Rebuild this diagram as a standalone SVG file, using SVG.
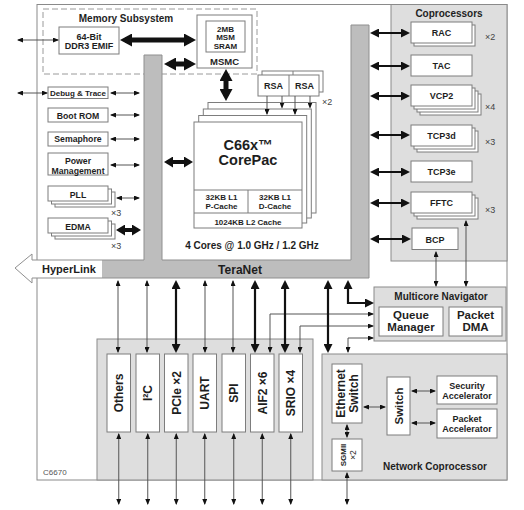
<svg xmlns="http://www.w3.org/2000/svg" width="524" height="510" viewBox="0 0 524 510">
<style>
text{font-family:"Liberation Sans",Arial,sans-serif;fill:#1e1e1e;font-weight:bold;text-anchor:middle}
.b{fill:#fff;stroke:#7d7d7d;stroke-width:1}
.g{fill:#dedede;stroke:#8a8a8a;stroke-width:1}
.d{fill:none;stroke:#9a9a9a;stroke-width:1;stroke-dasharray:6 3}
.ln{fill:none;stroke:#7d7d7d;stroke-width:1}
.t{stroke:#555;stroke-width:1;fill:none;marker-start:url(#at);marker-end:url(#at)}
.t1{stroke:#555;stroke-width:1;fill:none;marker-end:url(#at)}
.m{stroke:#111;stroke-width:2.2;fill:none;marker-start:url(#am);marker-end:url(#am)}
.k{stroke:#111;stroke-width:5;fill:none;marker-start:url(#ak);marker-end:url(#ak)}
.c{stroke:#111;stroke-width:4;fill:none;marker-start:url(#ac);marker-end:url(#ac)}
.x{font-weight:normal;font-size:9px;fill:#444;text-anchor:start}
.s8{font-size:8px}
.s9{font-size:9px}
.s10{font-size:10px}
.s12{font-size:12px}
</style>
<defs>
<marker id="at" markerUnits="userSpaceOnUse" markerWidth="6" markerHeight="5" refX="5" refY="2.5" orient="auto-start-reverse"><path d="M0,0L6,2.5L0,5z" fill="#111"/></marker>
<marker id="am" markerUnits="userSpaceOnUse" markerWidth="9" markerHeight="9" refX="6.5" refY="4.5" orient="auto-start-reverse"><path d="M0,0L9,4.5L0,9z" fill="#111"/></marker>
<marker id="ak" markerUnits="userSpaceOnUse" markerWidth="12" markerHeight="13" refX="7" refY="6.5" orient="auto-start-reverse"><path d="M0,0L12,6.5L0,13z" fill="#111"/></marker>
<marker id="ac" markerUnits="userSpaceOnUse" markerWidth="9" markerHeight="11" refX="5.5" refY="5.5" orient="auto-start-reverse"><path d="M0,0L9,5.5L0,11z" fill="#111"/></marker>
</defs>

<g id="chip">
<rect x="37" y="4.5" width="470" height="475.5" fill="#fff" stroke="#8a8a8a"/>
<text x="43" y="475" style="font-weight:normal;font-size:8px;fill:#555;text-anchor:start">C6670</text>
</g>

<g id="coprocessors">
<rect class="g" x="391" y="4.5" width="116" height="256.5"/>
<text class="s10" x="449" y="16.5">Coprocessors</text>
</g>
<g id="rac">
<rect class="b" x="414" y="25" width="61" height="21"/>
<rect class="b" x="411" y="22" width="61" height="21"/>
<text class="s9" x="441.5" y="36">RAC</text>
<text class="x" x="485" y="40">×2</text>
</g>
<g id="tac">
<rect class="b" x="411" y="55" width="61" height="21"/>
<text class="s9" x="441.5" y="69">TAC</text>
</g>
<g id="vcp2">
<rect class="b" x="420" y="94" width="61" height="21"/>
<rect class="b" x="417" y="91" width="61" height="21"/>
<rect class="b" x="414" y="88" width="61" height="21"/>
<rect class="b" x="411" y="85" width="61" height="21"/>
<text class="s9" x="441.5" y="99">VCP2</text>
<text class="x" x="485" y="110">×4</text>
</g>
<g id="tcp3d">
<rect class="b" x="417" y="131" width="61" height="21"/>
<rect class="b" x="414" y="128" width="61" height="21"/>
<rect class="b" x="411" y="125" width="61" height="21"/>
<text class="s9" x="441.5" y="138.5">TCP3d</text>
<text class="x" x="485" y="145">×3</text>
</g>
<g id="tcp3e">
<rect class="b" x="411" y="161" width="61" height="21"/>
<text class="s9" x="441.5" y="174.5">TCP3e</text>
</g>
<g id="fftc">
<rect class="b" x="417" y="198" width="61" height="21"/>
<rect class="b" x="414" y="195" width="61" height="21"/>
<rect class="b" x="411" y="192" width="61" height="21"/>
<text class="s9" x="441.5" y="206">FFTC</text>
<text class="x" x="485" y="213">×3</text>
</g>
<g id="bcp">
<rect class="b" x="412" y="228" width="46" height="21.5"/>
<text class="s9" x="435" y="242.5">BCP</text>
</g>

<g id="memory-subsystem">
<rect class="d" x="43" y="9" width="214" height="65"/>
<text class="s10" x="126" y="22">Memory Subsystem</text>
</g>
<g id="ddr3">
<rect class="b" x="59" y="27" width="60" height="27"/>
<text class="s9" x="89" y="39.5">64-Bit</text>
<text class="s9" x="89" y="48.5">DDR3 EMIF</text>
</g>
<g id="msmc">
<rect class="b" x="197" y="15" width="55" height="53"/>
<rect class="b" x="206" y="21" width="39" height="31"/>
<text class="s8" x="225.5" y="31.5">2MB</text>
<text class="s8" x="225.5" y="40">MSM</text>
<text class="s8" x="225.5" y="48.5">SRAM</text>
<text x="224.5" y="65" style="font-size:9.5px">MSMC</text>
</g>

<g id="teranet">
<path d="M144,55H162V260H351V25H369V278H102V260H144Z" fill="#bdbdbd"/>
<path d="M15,268L32,254V260H102V278H32V283Z" fill="#fff"/>
<path d="M144,55H162V260H351V25H369V278H32V283L15,268L32,254V260H144Z" fill="none" stroke="#8f8f8f"/>
<text class="s12" x="240" y="273.5">TeraNet</text>
<text x="42" y="273" style="font-size:11px;text-anchor:start">HyperLink</text>
</g>

<g id="debug-trace">
<rect class="b" x="48" y="87" width="60" height="11.5"/>
<text class="s8" x="78" y="96">Debug &amp; Trace</text>
</g>
<g id="boot-rom">
<rect class="b" x="48" y="108" width="60" height="14"/>
<text x="78" y="119" style="font-size:8.7px">Boot ROM</text>
</g>
<g id="semaphore">
<rect class="b" x="48" y="132" width="60" height="14"/>
<text x="78" y="141.5" style="font-size:8.7px">Semaphore</text>
</g>
<g id="power">
<rect class="b" x="48" y="153" width="60" height="22"/>
<text x="78" y="164" style="font-size:8.7px">Power</text>
<text x="78" y="173.5" style="font-size:8.7px">Management</text>
</g>
<g id="pll">
<rect class="b" x="55" y="192" width="60" height="15"/>
<rect class="b" x="51.5" y="189" width="60" height="15"/>
<rect class="b" x="48" y="186" width="60" height="15"/>
<text x="78" y="197.5" style="font-size:8.7px">PLL</text>
<text class="x" x="111" y="216">×3</text>
</g>
<g id="edma">
<rect class="b" x="55" y="224" width="60" height="15"/>
<rect class="b" x="51.5" y="221" width="60" height="15"/>
<rect class="b" x="48" y="218" width="60" height="15"/>
<text x="78" y="229.5" style="font-size:8.7px">EDMA</text>
<text class="x" x="111" y="249">×3</text>
</g>

<g id="corepac">
<rect class="b" x="208" y="102.5" width="108" height="110.5"/>
<rect class="b" x="203.3" y="109" width="108" height="109"/>
<rect class="b" x="198.7" y="115.5" width="108" height="107.5"/>
<rect class="b" x="194" y="122" width="108" height="106"/>
<path class="ln" d="M194,190H302M248,190V213M194,213H302"/>
<text x="248" y="149.5" style="font-size:14.5px">C66x™</text>
<text x="248" y="165" style="font-size:14.5px">CorePac</text>
<text class="s8" x="221.5" y="200">32KB L1</text>
<text class="s8" x="221.5" y="209">P-Cache</text>
<text class="s8" x="275" y="200">32KB L1</text>
<text class="s8" x="275" y="209">D-Cache</text>
<text class="s8" x="248" y="224.5">1024KB L2 Cache</text>
<text class="s10" x="252" y="248.5">4 Cores @ 1.0 GHz / 1.2 GHz</text>
</g>
<g id="rsa">
<rect class="b" x="262" y="71" width="61" height="21"/>
<path class="ln" d="M293,71V92"/>
<rect class="b" x="258" y="75" width="61" height="21"/>
<path class="ln" d="M289,75V96"/>
<text class="s9" x="273.5" y="89">RSA</text>
<text class="s9" x="304.5" y="89">RSA</text>
<text class="x" x="322" y="105">×2</text>
</g>

<g id="multicore-navigator">
<rect class="g" x="374" y="287" width="132" height="54"/>
<text class="s10" x="441" y="300">Multicore Navigator</text>
</g>
<g id="queue-manager">
<rect class="b" x="379" y="307" width="64" height="29"/>
<text x="411" y="319" style="font-size:11.5px">Queue</text>
<text x="411" y="331" style="font-size:11.5px">Manager</text>
</g>
<g id="packet-dma">
<rect class="b" x="449" y="307" width="53" height="29"/>
<text x="475.5" y="319" style="font-size:11.5px">Packet</text>
<text x="475.5" y="331" style="font-size:11.5px">DMA</text>
</g>

<g id="peripherals">
<rect class="g" x="97" y="339" width="216" height="141"/>
</g>
<g id="others">
<rect class="b" x="107" y="354" width="23.5" height="78"/>
<text class="s12" transform="translate(118.75,393) rotate(-90)" y="4.3">Others</text>
</g>
<g id="i2c">
<rect class="b" x="136" y="354" width="23.5" height="78"/>
<text class="s12" transform="translate(147.75,393) rotate(-90)" y="4.3">I²C</text>
</g>
<g id="pcie">
<rect class="b" x="164.5" y="354" width="23.5" height="78"/>
<text class="s12" transform="translate(176.25,393) rotate(-90)" y="4.3">PCIe ×2</text>
</g>
<g id="uart">
<rect class="b" x="193" y="354" width="23.5" height="78"/>
<text class="s12" transform="translate(204.75,393) rotate(-90)" y="4.3">UART</text>
</g>
<g id="spi">
<rect class="b" x="222" y="354" width="23.5" height="78"/>
<text class="s12" transform="translate(233.75,393) rotate(-90)" y="4.3">SPI</text>
</g>
<g id="aif2">
<rect class="b" x="250.5" y="354" width="23.5" height="78"/>
<text class="s12" transform="translate(262.25,393) rotate(-90)" y="4.3">AIF2 ×6</text>
</g>
<g id="srio">
<rect class="b" x="279" y="354" width="23.5" height="78"/>
<text class="s12" transform="translate(290.75,393) rotate(-90)" y="4.3">SRIO ×4</text>
</g>

<g id="network-coprocessor">
<rect class="g" x="322" y="354" width="185" height="126"/>
<text class="s10" x="435" y="469.5">Network Coprocessor</text>
</g>
<g id="ethernet-switch">
<rect class="b" x="332" y="364" width="30" height="59"/>
<text class="s12" transform="translate(347,393.5) rotate(-90)" y="-2.3">Ethernet</text>
<text class="s12" transform="translate(347,393.5) rotate(-90)" y="10.7">Switch</text>
</g>
<g id="sgmii">
<rect class="b" x="332" y="439" width="30" height="32"/>
<text class="s8" transform="translate(347,455) rotate(-90)" y="-1.5">SGMII</text>
<text transform="translate(347,455) rotate(-90)" y="8.5" style="font-weight:normal;font-size:8.5px">×2</text>
</g>
<g id="switch">
<rect class="b" x="387" y="377" width="23" height="58"/>
<text transform="translate(398.5,406) rotate(-90)" y="4.2" style="font-size:11.5px">Switch</text>
</g>
<g id="security-accelerator">
<rect class="b" x="437" y="376" width="60" height="28"/>
<text class="s9" x="467" y="388.5">Security</text>
<text class="s9" x="467" y="399">Accelerator</text>
</g>
<g id="packet-accelerator">
<rect class="b" x="437" y="409" width="60" height="29"/>
<text class="s9" x="467" y="422">Packet</text>
<text class="s9" x="467" y="432">Accelerator</text>
</g>

<g id="connectors">
<path class="t" d="M18,40H58"/>
<path class="t" d="M18,93H47"/>
<path class="t" d="M111,93H139"/>
<path class="t" d="M111,115H139"/>
<path class="t" d="M111,139H139"/>
<path class="t" d="M111,165H139"/>
<path class="t" d="M117,198H139"/>
<path class="t1" d="M267,96V114"/>
<path class="t1" d="M282,96V107.5"/>
<path class="t1" d="M295,96V114"/>
<path class="t1" d="M310,96V107.5"/>
<path class="t" d="M436,252V286"/>
<path class="t" d="M466,221V286"/>
<path class="t" d="M270,352V314H373"/>
<path class="t" d="M300,352V326H373"/>
<path class="t" d="M348,352V338H373"/>
<path class="t" d="M118,281V352"/>
<path class="t" d="M147,281V352"/>
<path class="t" d="M205,281V352"/>
<path class="t" d="M233,281V352"/>
<path class="t" d="M118.75,434V504"/>
<path class="t" d="M147.75,434V504"/>
<path class="t" d="M176.25,434V504"/>
<path class="t" d="M204.75,434V504"/>
<path class="t" d="M233.75,434V504"/>
<path class="t" d="M262.25,434V504"/>
<path class="t" d="M290.75,434V504"/>
<path class="t" d="M347,425V437"/>
<path class="t" d="M347,473V504"/>
<path class="t" d="M364,407H385"/>
<path class="t" d="M412,391H435"/>
<path class="t" d="M412,423H435"/>
<path class="m" d="M372.5,33H407.5"/>
<path class="m" d="M372.5,66H407.5"/>
<path class="m" d="M372.5,96H407.5"/>
<path class="m" d="M372.5,135H407.5"/>
<path class="m" d="M372.5,172H407.5"/>
<path class="m" d="M372.5,203H407.5"/>
<path class="m" d="M372.5,239H408.5"/>
<path class="m" d="M176,282.5V350.5"/>
<path class="m" d="M255,282.5V350.5"/>
<path class="m" d="M285,282.5V350.5"/>
<path class="m" d="M328,282.5V350.5"/>
<path class="m" d="M348,282.5V303H371.5"/>
<path class="k" d="M125,40H191"/>
<path class="k" d="M169,64H191"/>
<path class="k" d="M226,74V96"/>
<path class="c" d="M167.5,162H189.5"/>
<path class="c" d="M119.5,230H137.5"/>
</g>
</svg>
